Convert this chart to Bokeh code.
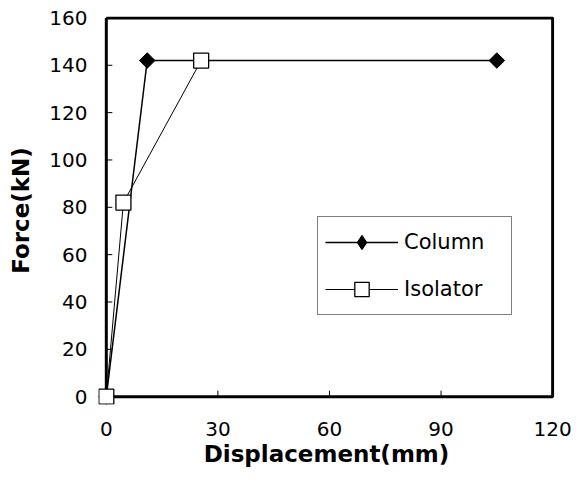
import math
from bokeh.plotting import figure
from bokeh.models import Range1d, Legend, LegendItem, FixedTicker
from bokeh.embed import file_html
from bokeh.resources import INLINE

col_x = [0, 11, 105]
col_y = [0, 142, 142]
iso_x = [0, 4.6, 25.5]
iso_y = [0, 82, 142]
x_ticks = [0, 30, 60, 90, 120]
y_ticks = [0, 20, 40, 60, 80, 100, 120, 140, 160]
x_lim = (0, 120)
y_lim = (0, 160)

FONT = "DejaVu Sans"
PADX, PADY = 2.1, 3.3  # room so the origin marker is not cut by the frame

p = figure(width=582, height=479, output_backend="svg", toolbar_location=None,
           x_range=Range1d(x_lim[0] - PADX, x_lim[1] + 0.5),
           y_range=Range1d(y_lim[0] - PADY, y_lim[1] + 0.6),
           min_border_left=98, min_border_right=28, min_border_top=16, min_border_bottom=75)
p.xgrid.visible = False
p.ygrid.visible = False
p.outline_line_color = None
p.background_fill_color = "white"
p.border_fill_color = "white"

for ax in (p.xaxis[0], p.yaxis[0]):
    ax.axis_line_color = None
    ax.major_tick_line_color = None
    ax.major_tick_in = 0
    ax.major_tick_out = 0
    ax.minor_tick_line_color = None
    ax.major_label_text_font = FONT
    ax.major_label_text_font_size = "20px"
    ax.major_label_text_color = "black"
    ax.axis_label_text_font = FONT
    ax.axis_label_text_font_size = "23px"
    ax.axis_label_text_font_style = "bold"
    ax.axis_label_text_color = "black"

p.xaxis.ticker = FixedTicker(ticks=x_ticks)
p.yaxis.ticker = FixedTicker(ticks=y_ticks)
p.xaxis.axis_label = "Displacement(mm)"
p.yaxis.axis_label = "Force(kN)"
p.xaxis.major_label_standoff = 17
p.yaxis.major_label_standoff = 11
p.xaxis.axis_label_standoff = 2
p.yaxis.axis_label_standoff = 12

# plot box and inward ticks
p.line([x_lim[0], x_lim[1], x_lim[1], x_lim[0], x_lim[0]],
       [y_lim[1], y_lim[1], y_lim[0], y_lim[0], y_lim[1]],
       line_color="black", line_width=3)
p.ray(x=x_ticks, y=[y_lim[0]] * len(x_ticks), length=6, angle=math.pi / 2,
      length_units="screen", line_color="black", line_width=1)
p.ray(x=[x_lim[0]] * len(y_ticks), y=y_ticks, length=6, angle=0,
      length_units="screen", line_color="black", line_width=1)

l1 = p.line(col_x, col_y, line_color="black", line_width=1.5)
m1 = p.scatter(col_x, col_y, marker="square", angle=math.pi / 4, size=11,
               fill_color="black", line_color="black")
l2 = p.line(iso_x, iso_y, line_color="black", line_width=1)
m2 = p.scatter(iso_x, iso_y, marker="square", size=15, fill_color="white",
               line_color="black", line_width=1.3)

# legend-only diamond (hidden in the plot)
lm1 = p.scatter(col_x, col_y, marker="diamond", fill_color="black",
                line_color="black", visible=False)

legend = Legend(items=[LegendItem(label="Column", renderers=[l1, lm1]),
                       LegendItem(label="Isolator", renderers=[l2, m2])],
                location=(219, 89))
legend.border_line_color = "black"
legend.border_line_width = 1
legend.background_fill_color = "white"
legend.background_fill_alpha = 1
legend.inactive_fill_alpha = 0
legend.padding = 7
legend.spacing = 11
legend.glyph_width = 73
legend.glyph_height = 36
legend.label_standoff = 6
legend.label_width = 100
legend.label_text_font = FONT
legend.label_text_font_size = "21px"
legend.label_text_color = "black"
p.add_layout(legend, "center")

open("out.html", "w").write(file_html(p, INLINE))
